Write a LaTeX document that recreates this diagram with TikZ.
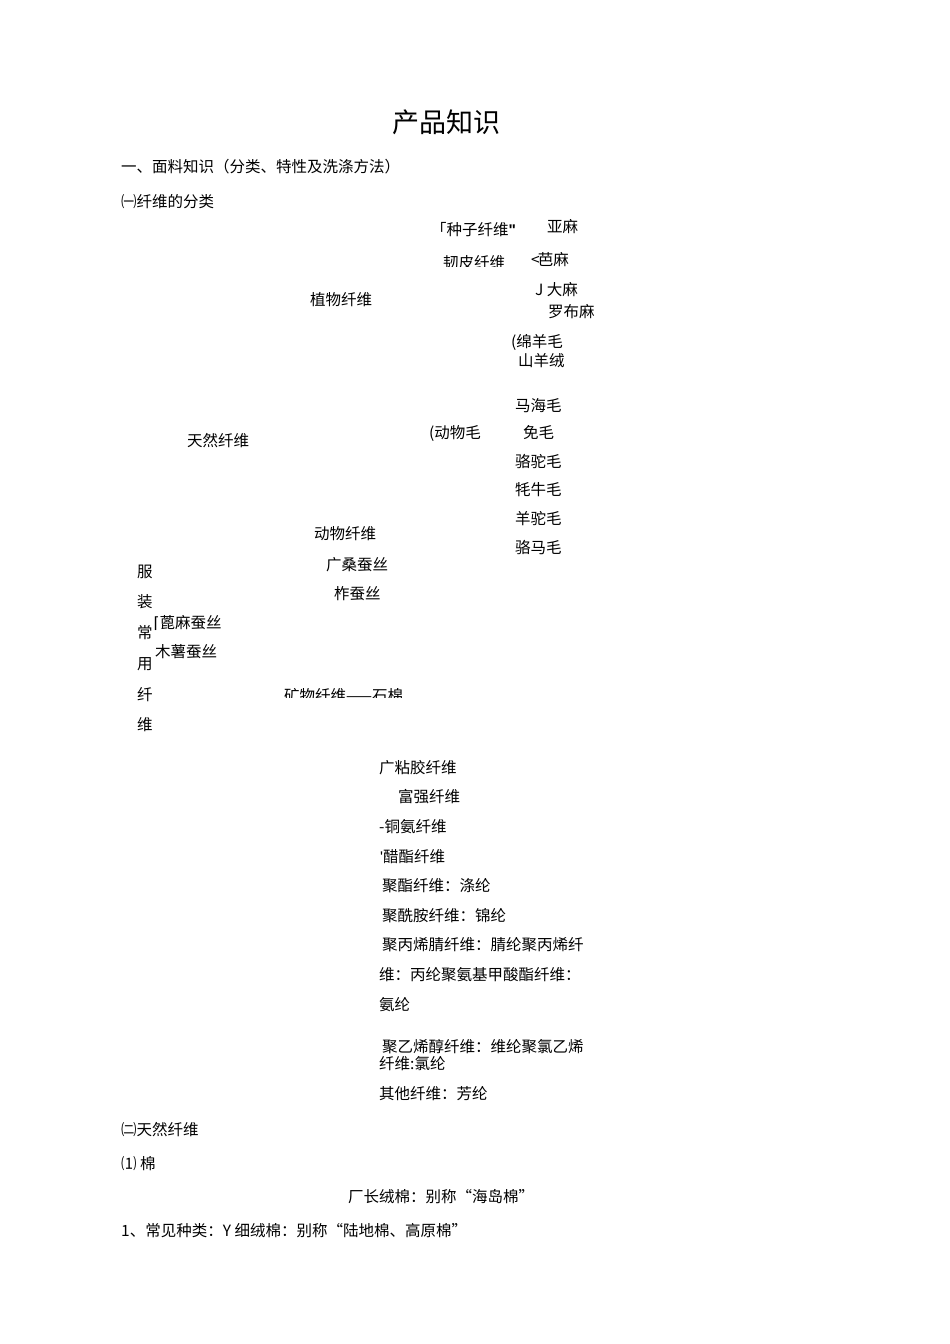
\documentclass[tikz,border=0pt]{standalone}
\usepackage{fontspec}
\setmainfont{Noto Sans CJK SC}
\newfontfamily\latinfont{Liberation Sans}
\newfontfamily\symfont{DejaVu Sans}
\tikzset{
  txt/.style={anchor=west, inner sep=0pt, font=\fontsize{15.5}{18}\selectfont},
  ttl/.style={anchor=center, inner sep=0pt, font=\fontsize{27}{30}\selectfont}
}
\begin{document}
\begin{tikzpicture}[x=1pt,y=-1pt]
\useasboundingbox[fill=white] (0,0) rectangle (950,1344);
\node[ttl] (title) at (446,122) {产品知识};
\node[txt] (h1) at (121,167) {一、面料知识（分类、特性及洗涤方法）};
\node[txt] (h2) at (121,202) {㈠纤维的分类};
\node[txt] (zzxw) at (431,230) {「种子纤维{\latinfont\bfseries "}};
\node[txt] (yama) at (547,227) {亚麻};
\begin{scope}
  \clip (430,245) rectangle (530,266);
  \node[txt] (rpxw) at (443,263) {韧皮纤维};
\end{scope}
\node[txt] (zhuma) at (531,260) {<\kern-2pt 芭麻};
\node[txt] (dama) at (535,290) {J 大麻};
\node[txt] (lbm) at (548,312) {罗布麻};
\node[txt] (myym) at (511,342) {(绵羊毛};
\node[txt] (syr) at (518,361) {山羊绒};
\node[txt] (zwxw) at (310,300) {植物纤维};
\node[txt] (trxw) at (187,441) {天然纤维};
\node[txt] (dwm) at (429,434) {(动物毛};
\node[txt] (mhm) at (515,406) {马海毛};
\node[txt] (tm) at (523,433) {免毛};
\node[txt] (ltm) at (515,461) {骆驼毛};
\node[txt] (mnm) at (515,490) {牦牛毛};
\node[txt] (ytm) at (515,519) {羊驼毛};
\node[txt] (lmm) at (515,548) {骆马毛};
\node[txt] (dwxw) at (314,534) {动物纤维};
\node[txt] (scs) at (326,565) {广桑蚕丝};
\node[txt] (zcs) at (334,594) {柞蚕丝};
\node[txt] (c1) at (137,572) {服};
\node[txt] (c2) at (137,602) {装};
\node[txt] (c3) at (137,633) {常};
\node[txt] (c4) at (137,664) {用};
\node[txt] (c5) at (137,695) {纤};
\node[txt] (c6) at (137,725) {维};
\node[txt] (bmcs) at (153.5,623) {{\symfont ⌈}蓖麻蚕丝};
\node[txt] (mscs) at (155,652) {木薯蚕丝};
\begin{scope}
  \clip (270,680) rectangle (430,697.5);
  \node[txt] (kwxw) at (284,696) {矿物纤维——石棉};
\end{scope}
\node[txt] (zjxw) at (379,768) {广粘胶纤维};
\node[txt] (fqxw) at (398,797) {富强纤维};
\node[txt] (taxw) at (379,827) {-铜氨纤维};
\node[txt] (czxw) at (380,857) {{\latinfont '}醋酯纤维};
\node[txt] (r1) at (382,886) {聚酯纤维：涤纶};
\node[txt] (r2) at (382,916) {聚酰胺纤维：锦纶};
\node[txt] (r3) at (382,945) {聚丙烯腈纤维：腈纶聚丙烯纤};
\node[txt] (r4) at (379,975) {维：丙纶聚氨基甲酸酯纤维：};
\node[txt] (r5) at (379,1005) {氨纶};
\node[txt] (r6) at (382,1047) {聚乙烯醇纤维：维纶聚氯乙烯};
\node[txt] (r7) at (379,1064) {纤维:氯纶};
\node[txt] (r8) at (379,1094) {其他纤维：芳纶};
\node[txt] (h3) at (121,1130) {㈡天然纤维};
\node[txt] (h4) at (121,1164) {⑴ 棉};
\node[txt] (cr) at (348,1197) {厂长绒棉：别称“海岛棉”};
\node[txt] (xr) at (121,1231) {1、常见种类：Y 细绒棉：别称“陆地棉、高原棉”};
\end{tikzpicture}
\end{document}
